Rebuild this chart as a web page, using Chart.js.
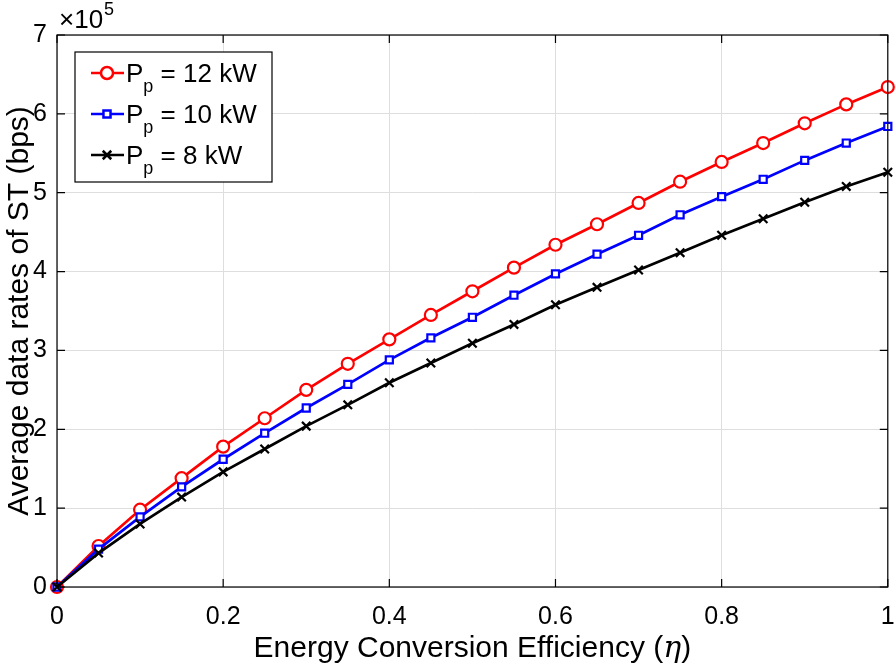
<!DOCTYPE html>
<html>
<head>
<meta charset="utf-8">
<script src="https://cdn.jsdelivr.net/npm/chart.js@4.4.0/dist/chart.umd.min.js"></script>
<style>
  html, body { margin: 0; padding: 0; background: #fff; }
  canvas { display: block; }
</style>
</head>
<body>
<canvas id="chart" width="896" height="665"></canvas>
<script>
// energy conversion efficiency
const eta = [0, 0.05, 0.1, 0.15, 0.2, 0.25, 0.3, 0.35, 0.4, 0.45, 0.5,
             0.55, 0.6, 0.65, 0.7, 0.75, 0.8, 0.85, 0.9, 0.95, 1];
// average data rates of ST, in units of 1e5 bps
const rate12kW = [0, 0.52, 0.98, 1.38, 1.78, 2.14, 2.50, 2.83, 3.14, 3.45, 3.75,
                  4.05, 4.34, 4.60, 4.87, 5.14, 5.39, 5.63, 5.88, 6.12, 6.34];
const rate10kW = [0, 0.48, 0.89, 1.27, 1.62, 1.95, 2.27, 2.57, 2.88, 3.16, 3.42,
                  3.70, 3.97, 4.22, 4.46, 4.72, 4.95, 5.17, 5.41, 5.63, 5.84];
const rate8kW = [0, 0.43, 0.80, 1.14, 1.46, 1.75, 2.04, 2.31, 2.59, 2.84, 3.09,
                 3.33, 3.58, 3.80, 4.02, 4.24, 4.46, 4.67, 4.88, 5.08, 5.26];
const legendLabels = ["12 kW", "10 kW", "8 kW"];

const FONT = "'Liberation Sans', Arial, Helvetica, sans-serif";

function pts(ys) {
  return eta.map((x, i) => ({ x: x, y: ys[i] }));
}

const series = [
  { data: rate12kW, color: "#ff0000", style: "circle", radius: 6, order: 3 },
  { data: rate10kW, color: "#0000ff", style: "rect", radius: 5, order: 2 },
  { data: rate8kW, color: "#000000", style: "crossRot", radius: 6, order: 1 }
];

// box, inner ticks, labels and legend, MATLAB style
const decorations = {
  id: "decorations",
  afterDraw(chart) {
    const ctx = chart.ctx;
    const a = chart.chartArea;
    const xs = chart.scales.x, ys = chart.scales.y;
    ctx.save();
    ctx.strokeStyle = "#000";
    ctx.lineWidth = 1.2;
    ctx.strokeRect(a.left, a.top, a.right - a.left, a.bottom - a.top);

    const tl = 8;
    ctx.beginPath();
    xs.ticks.forEach(t => {
      const px = xs.getPixelForValue(t.value);
      ctx.moveTo(px, a.bottom); ctx.lineTo(px, a.bottom - tl);
      ctx.moveTo(px, a.top); ctx.lineTo(px, a.top + tl);
    });
    ys.ticks.forEach(t => {
      const py = ys.getPixelForValue(t.value);
      ctx.moveTo(a.left, py); ctx.lineTo(a.left + tl, py);
      ctx.moveTo(a.right, py); ctx.lineTo(a.right - tl, py);
    });
    ctx.stroke();

    // exponent
    ctx.fillStyle = "#000";
    ctx.textBaseline = "alphabetic";
    ctx.textAlign = "left";
    ctx.font = "26px " + FONT;
    ctx.fillText("\u00d710", 59, 28);
    const w = ctx.measureText("\u00d710").width;
    ctx.font = "18px " + FONT;
    ctx.fillText("5", 59 + w + 1, 15);

    // axis titles
    ctx.font = "30px " + FONT;
    const xt = "Energy Conversion Efficiency (";
    ctx.textAlign = "left";
    const w1 = ctx.measureText(xt).width;
    ctx.font = "italic 30px 'DejaVu Serif', serif";
    const w2 = ctx.measureText("\u03b7").width;
    ctx.font = "30px " + FONT;
    const w3 = ctx.measureText(")").width;
    let sx = (a.left + a.right) / 2 - (w1 + w2 + w3) / 2;
    ctx.fillText(xt, sx, 657);
    ctx.font = "italic 30px 'DejaVu Serif', serif";
    ctx.fillText("\u03b7", sx + w1, 657);
    ctx.font = "30px " + FONT;
    ctx.fillText(")", sx + w1 + w2, 657);

    ctx.save();
    ctx.translate(28, (a.top + a.bottom) / 2);
    ctx.rotate(-Math.PI / 2);
    ctx.textAlign = "center";
    ctx.fillText("Average data rates of ST (bps)", 0, 0);
    ctx.restore();

    // legend
    const lx = 75, ly = 52, lw = 197, lh = 130;
    ctx.fillStyle = "#fff";
    ctx.fillRect(lx, ly, lw, lh);
    ctx.strokeStyle = "#000";
    ctx.lineWidth = 1.2;
    ctx.strokeRect(lx, ly, lw, lh);
    series.forEach((s, i) => {
      const cy = 73 + i * 41;
      ctx.strokeStyle = s.color;
      ctx.lineWidth = 2.5;
      ctx.beginPath();
      ctx.moveTo(91, cy); ctx.lineTo(124, cy);
      ctx.stroke();
      ctx.fillStyle = "#fff";
      Chart.helpers.drawPoint(ctx, { pointStyle: s.style, radius: s.radius, borderWidth: 2.2 }, 107, cy);
      ctx.fillStyle = "#000";
      ctx.textAlign = "left";
      ctx.font = "26px " + FONT;
      ctx.fillText("P", 126, cy + 9);
      const pw = ctx.measureText("P").width;
      ctx.font = "18px " + FONT;
      ctx.fillText("p", 126 + pw, cy + 19);
      const sw = ctx.measureText("p").width;
      ctx.font = "26px " + FONT;
      ctx.fillText(" = " + legendLabels[i], 126 + pw + sw, cy + 9);
    });
    ctx.restore();
  }
};

new Chart(document.getElementById("chart").getContext("2d"), {
  type: "line",
  data: {
    datasets: series.map((s, i) => ({
      label: legendLabels[i],
      data: pts(s.data),
      borderColor: s.color,
      backgroundColor: "#fff",
      borderWidth: 2.7,
      pointStyle: s.style,
      pointRadius: s.radius,
      pointBorderWidth: 2.2,
      pointBackgroundColor: "#fff",
      pointBorderColor: s.color,
      tension: 0,
      clip: false,
      order: s.order
    }))
  },
  options: {
    responsive: false,
    animation: false,
    devicePixelRatio: 1,
    layout: { padding: { top: 35, right: 6, left: 0, bottom: 0 } },
    plugins: { legend: { display: false }, tooltip: { enabled: false } },
    scales: {
      x: {
        type: "linear",
        min: 0, max: 1,
        ticks: {
          stepSize: 0.2,
          color: "#000",
          padding: 15,
          font: { family: FONT, size: 25 },
          callback: v => (Math.round(v * 10) / 10).toString()
        },
        grid: { color: "#dedede", lineWidth: 1, drawTicks: false },
        border: { display: false },
        afterFit: s => { s.height = 78; s.paddingLeft = 0; s.paddingRight = 0; }
      },
      y: {
        min: 0, max: 7,
        ticks: {
          stepSize: 1,
          color: "#000",
          padding: 10,
          font: { family: FONT, size: 25 }
        },
        grid: { color: "#dedede", lineWidth: 1, drawTicks: false },
        border: { display: false },
        afterFit: s => { s.width = 57; s.paddingTop = 0; s.paddingBottom = 0; }
      }
    }
  },
  plugins: [decorations]
});
</script>
</body>
</html>
